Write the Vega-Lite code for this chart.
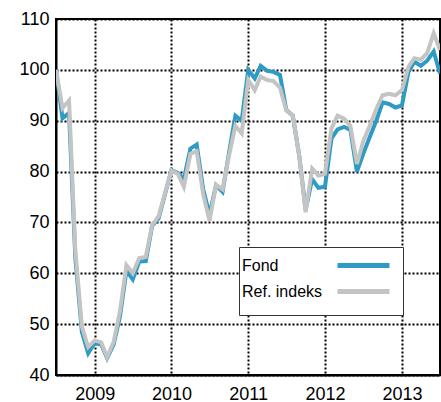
{
  "$schema": "https://vega.github.io/schema/vega-lite/v6.json",
  "width": 384,
  "height": 356,
  "autosize": {"type": "none"},
  "padding": {"left": 56, "top": 19, "right": 1, "bottom": 27},
  "background": "white",
  "config": {
    "font": "Liberation Sans",
    "view": {"stroke": "black", "strokeWidth": 2},
    "axis": {
      "labelFont": "Liberation Sans",
      "labelFontSize": 18,
      "labelColor": "black",
      "ticks": false,
      "domainColor": "black",
      "domainWidth": 2,
      "gridColor": "black",
      "gridDash": [2, 2],
      "gridWidth": 2,
      "gridOpacity": 1,
      "title": null
    }
  },
  "data": {
    "values": [
      {"date": "2008-07-01T00:00:00", "Fond": 100, "Ref": 100},
      {"date": "2008-08-01T00:00:00", "Fond": 90.5, "Ref": 92.5},
      {"date": "2008-09-01T00:00:00", "Fond": 91.5, "Ref": 94},
      {"date": "2008-10-01T00:00:00", "Fond": 63, "Ref": 64.5},
      {"date": "2008-11-01T00:00:00", "Fond": 48.5, "Ref": 49.5},
      {"date": "2008-12-01T00:00:00", "Fond": 44.3, "Ref": 45.5},
      {"date": "2009-01-01T00:00:00", "Fond": 46.3, "Ref": 46.8},
      {"date": "2009-02-01T00:00:00", "Fond": 46, "Ref": 46.4},
      {"date": "2009-03-01T00:00:00", "Fond": 43.3, "Ref": 43.5},
      {"date": "2009-04-01T00:00:00", "Fond": 46, "Ref": 46.5},
      {"date": "2009-05-01T00:00:00", "Fond": 51.5, "Ref": 52.5},
      {"date": "2009-06-01T00:00:00", "Fond": 60.5, "Ref": 61.6},
      {"date": "2009-07-01T00:00:00", "Fond": 58.8, "Ref": 60},
      {"date": "2009-08-01T00:00:00", "Fond": 62.3, "Ref": 63},
      {"date": "2009-09-01T00:00:00", "Fond": 62.4, "Ref": 63.2},
      {"date": "2009-10-01T00:00:00", "Fond": 69.3, "Ref": 69.5},
      {"date": "2009-11-01T00:00:00", "Fond": 70.8, "Ref": 71.2},
      {"date": "2009-12-01T00:00:00", "Fond": 75.5, "Ref": 75.7},
      {"date": "2010-01-01T00:00:00", "Fond": 80.3, "Ref": 80.2},
      {"date": "2010-02-01T00:00:00", "Fond": 79.7, "Ref": 79.5},
      {"date": "2010-03-01T00:00:00", "Fond": 78.5, "Ref": 77},
      {"date": "2010-04-01T00:00:00", "Fond": 84.5, "Ref": 83.5},
      {"date": "2010-05-01T00:00:00", "Fond": 85.3, "Ref": 84},
      {"date": "2010-06-01T00:00:00", "Fond": 76.5, "Ref": 75.5},
      {"date": "2010-07-01T00:00:00", "Fond": 71.5, "Ref": 70.3},
      {"date": "2010-08-01T00:00:00", "Fond": 77.3, "Ref": 77.4},
      {"date": "2010-09-01T00:00:00", "Fond": 76, "Ref": 76.5},
      {"date": "2010-10-01T00:00:00", "Fond": 83.5, "Ref": 83},
      {"date": "2010-11-01T00:00:00", "Fond": 91, "Ref": 89},
      {"date": "2010-12-01T00:00:00", "Fond": 90, "Ref": 87.5},
      {"date": "2011-01-01T00:00:00", "Fond": 100, "Ref": 98},
      {"date": "2011-02-01T00:00:00", "Fond": 98.3, "Ref": 96},
      {"date": "2011-03-01T00:00:00", "Fond": 100.8, "Ref": 98.7},
      {"date": "2011-04-01T00:00:00", "Fond": 99.8, "Ref": 98},
      {"date": "2011-05-01T00:00:00", "Fond": 99.6, "Ref": 97.8},
      {"date": "2011-06-01T00:00:00", "Fond": 99, "Ref": 96.5},
      {"date": "2011-07-01T00:00:00", "Fond": 92.1, "Ref": 92},
      {"date": "2011-08-01T00:00:00", "Fond": 91, "Ref": 91},
      {"date": "2011-09-01T00:00:00", "Fond": 83, "Ref": 83},
      {"date": "2011-10-01T00:00:00", "Fond": 72.5, "Ref": 72},
      {"date": "2011-11-01T00:00:00", "Fond": 78.5, "Ref": 80.6},
      {"date": "2011-12-01T00:00:00", "Fond": 76.8, "Ref": 79.2},
      {"date": "2012-01-01T00:00:00", "Fond": 77, "Ref": 79.6},
      {"date": "2012-02-01T00:00:00", "Fond": 86.5, "Ref": 88.5},
      {"date": "2012-03-01T00:00:00", "Fond": 88.3, "Ref": 91},
      {"date": "2012-04-01T00:00:00", "Fond": 88.8, "Ref": 90.4},
      {"date": "2012-05-01T00:00:00", "Fond": 88.2, "Ref": 89},
      {"date": "2012-06-01T00:00:00", "Fond": 80, "Ref": 81.5},
      {"date": "2012-07-01T00:00:00", "Fond": 83.5, "Ref": 86},
      {"date": "2012-08-01T00:00:00", "Fond": 86.8, "Ref": 89},
      {"date": "2012-09-01T00:00:00", "Fond": 90, "Ref": 92.3},
      {"date": "2012-10-01T00:00:00", "Fond": 93.6, "Ref": 95},
      {"date": "2012-11-01T00:00:00", "Fond": 93.3, "Ref": 95.3},
      {"date": "2012-12-01T00:00:00", "Fond": 92.6, "Ref": 95},
      {"date": "2013-01-01T00:00:00", "Fond": 93, "Ref": 96},
      {"date": "2013-02-01T00:00:00", "Fond": 99.6, "Ref": 100.6},
      {"date": "2013-03-01T00:00:00", "Fond": 101.6, "Ref": 102.3},
      {"date": "2013-04-01T00:00:00", "Fond": 100.8, "Ref": 102},
      {"date": "2013-05-01T00:00:00", "Fond": 101.8, "Ref": 103.3},
      {"date": "2013-06-01T00:00:00", "Fond": 103.6, "Ref": 107.2},
      {"date": "2013-07-01T00:00:00", "Fond": 99.3, "Ref": 103.9}
    ]
  },
  "transform": [
    {"fold": ["Fond", "Ref"], "as": ["key", "value"]},
    {"calculate": "datum.key === 'Ref' ? 'Ref. indeks' : 'Fond'", "as": "series"}
  ],
  "mark": {"type": "line", "strokeWidth": 4, "strokeJoin": "miter", "clip": true},
  "encoding": {
    "x": {
      "field": "date",
      "type": "temporal",
      "scale": {
        "domain": [
          {"year": 2008, "month": 7, "date": 1},
          {"year": 2013, "month": 7, "date": 1}
        ],
        "nice": false
      },
      "axis": {
        "values": [
          {"year": 2009, "month": 1, "date": 1},
          {"year": 2010, "month": 1, "date": 1},
          {"year": 2011, "month": 1, "date": 1},
          {"year": 2012, "month": 1, "date": 1},
          {"year": 2013, "month": 1, "date": 1}
        ],
        "format": "%Y",
        "labelPadding": 10,
        "labelFlush": false
      }
    },
    "y": {
      "field": "value",
      "type": "quantitative",
      "scale": {"domain": [40, 110], "nice": false, "zero": false},
      "axis": {"values": [40, 50, 60, 70, 80, 90, 100, 110], "labelPadding": 7}
    },
    "color": {
      "field": "series",
      "type": "nominal",
      "scale": {"domain": ["Fond", "Ref. indeks"], "range": ["#2E9BC5", "#C4C4C4"]},
      "legend": {
        "title": " ",
        "titleOrient": "bottom",
        "titleFontSize": 10,
        "titlePadding": 0,
        "orient": "none",
        "legendX": 183,
        "legendY": 228,
        "symbolType": "M-2,0L2,0",
        "symbolSize": 676,
        "symbolStrokeWidth": 5,
        "symbolOffset": 106,
        "labelOffset": -137,
        "labelAlign": "left",
        "labelFont": "Liberation Sans",
        "labelFontSize": 16,
        "labelColor": "black",
        "rowPadding": -14.5,
        "padding": 3,
        "fillColor": "white",
        "strokeColor": "#333333",
        "encode": {
          "symbols": {
            "update": {
              "stroke": {"signal": "datum.value === 'Fond' ? '#00B4E4' : '#BEC4C9'"}
            }
          }
        }
      }
    }
  }
}
